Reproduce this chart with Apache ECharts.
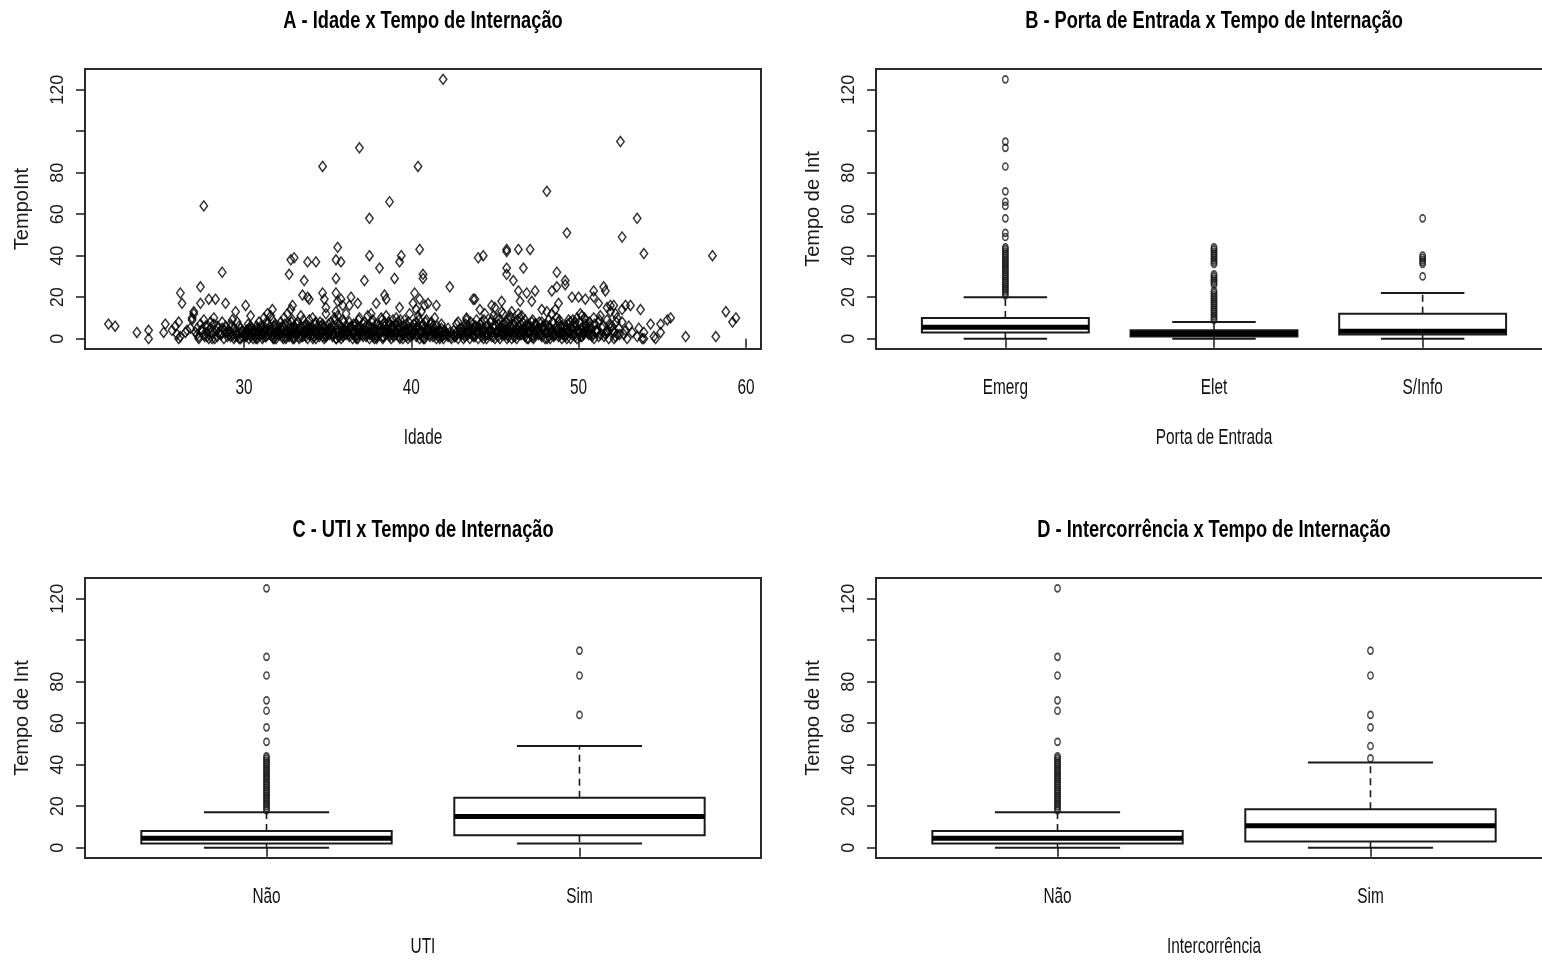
<!DOCTYPE html>
<html>
<head>
<meta charset="utf-8">
<script src="https://cdn.jsdelivr.net/npm/echarts@6/dist/echarts.min.js"></script>
<style>
  html, body { margin: 0; padding: 0; background: #fff; }
  #chart { width: 1542px; height: 961px; }
</style>
</head>
<body>
<div id="chart"></div>
<script>
// ---------- Painel A: idade x tempo de internação (dias) ----------
const idadeTempoExtremos = [
  [41.9,125],[52.5,95],[36.9,92],[34.7,83],[40.4,83],[48.1,71],[38.7,66],[27.6,64],[37.5,58],[53.5,58],[49.3,51],[52.6,49],
  [35.6,44],[40.5,43],[45.7,43],[45.7,42],[46.4,43],[47.1,43],[37.5,40],[44.0,39],[44.3,40],[53.9,41],[58.0,40],
  [33.0,39],[32.8,38],[33.8,37],[34.3,37],[35.5,38],[35.8,37],[39.4,40],[39.3,37],[38.1,34],[28.7,32],[32.7,31],
  [39.0,29],[35.5,29],[40.7,31],[40.7,29],[45.7,34],[45.7,31],[46.7,34],[46.1,28],[48.7,32],[49.2,28],[49.2,26],
  [33.6,28],[37.2,28],[27.4,25],[42.3,25],[51.5,25],[48.7,25],[48.4,23],[47.4,23],[46.4,23],[46.9,22],[51.6,23],
  [50.9,23],[26.2,22],[33.5,21],[34.7,22],[35.5,22],[40.2,22],[38.4,21],[26.3,17],[27.4,17],[27.9,19],[28.3,19],
  [28.9,17],[30.1,16],[33.8,20],[33.9,19],[34.8,19],[35.8,19],[35.6,18],[36.4,20],[36.3,16],[36.8,17],[37.9,17],
  [38.5,19],[40.5,19],[40.8,16],[40.1,17],[40.3,14],[39.3,15],[35.9,16],[34.9,15],[32.9,16],[32.8,14],[31.7,14],
  [29.5,13],[30.4,11],[27.0,13],[26.9,10],[46.5,18],[43.7,19],[43.8,19],[44.1,14],[45.4,18],[50.0,20],[50.9,20],
  [51.7,15],[52.1,16],[52.6,14],[53.1,16],[53.7,14],[55.5,10],[55.3,9],[54.9,7],[54.5,1],[56.4,1],[58.2,1],
  [58.8,13],[59.2,8],[59.4,10],[54.3,7],[54.9,3],[53.9,0],[54.6,0],[41.5,16],[41.0,17],[45.0,15],[47.8,14],
  [49.6,20],[50.4,19],[51.2,17],[51.9,16],[52.8,16],[47.2,18],[48.8,17],[44.8,16],
  [21.9,7],[22.3,6],[23.6,3],[24.3,4],[24.3,0],[25.2,3],[25.3,7],[25.7,4],[26.1,8],[26.1,0],[26.6,4],[27.0,12],[26.9,9]
];
const idadeTempoFaixa = [
  [26.5,3],[26.8,5],[26.2,1],[25.9,6],[26.0,2],
  [27.1,3],[27.2,5],[27.3,1],[27.4,7],[27.2,2],[27.5,4],[27.3,0],
  [27.6,2],[27.7,6],[27.8,3],[27.9,0],[27.6,9],[28.0,5],[27.8,1],[28.0,8],
  [28.1,2],[28.2,7],[28.3,4],[28.4,1],[28.2,10],[28.5,3],[28.4,6],[28.1,0],
  [28.6,2],[28.7,5],[28.8,0],[28.9,3],[28.7,8],[29.0,1],[28.9,6],
  [29.1,4],[29.2,1],[29.3,2],[29.4,0],[29.2,7],[29.5,3],[29.4,5],[29.3,9],[29.1,2],
  [29.6,1],[29.7,3],[29.8,0],[29.9,4],[29.7,6],[30.0,2],[29.8,5],[29.6,8],[29.9,1],
  [30.1,3],[30.2,2],[30.3,5],[30.4,1],[30.2,4],[30.5,3],[30.3,0],[30.4,6],[30.1,2],
  [30.6,4],[30.7,2],[30.8,5],[30.9,3],[30.7,1],[31.0,6],[30.8,0],[30.9,8],[30.6,3],
  [31.1,2],[31.2,4],[31.3,1],[31.4,7],[31.2,10],[31.5,3],[31.3,5],[31.1,0],[31.4,12],
  [31.6,3],[31.7,1],[31.8,6],[31.9,2],[31.7,9],[32.0,4],[31.8,0],[31.6,11],[31.9,5],
  [32.1,2],[32.2,5],[32.3,1],[32.4,3],[32.2,8],[32.5,0],[32.3,6],[32.4,10],[32.1,4],
  [32.6,3],[32.7,1],[32.8,5],[32.9,2],[32.7,7],[33.0,0],[32.8,4],[32.9,9],[32.6,12],[33.0,6],
  [33.1,2],[33.2,4],[33.3,1],[33.4,6],[33.2,8],[33.5,3],[33.3,0],[33.4,11],[33.1,5],
  [33.6,3],[33.7,1],[33.8,5],[33.9,2],[33.7,7],[34.0,4],[33.8,0],[33.9,9],[33.6,6],
  [34.1,2],[34.2,4],[34.3,0],[34.4,6],[34.2,3],[34.5,1],[34.3,8],[34.4,5],[34.1,10],
  [34.6,3],[34.7,1],[34.8,5],[34.9,2],[34.7,7],[35.0,4],[34.8,0],[34.9,12],[34.6,6],
  [35.1,2],[35.2,5],[35.3,1],[35.4,3],[35.2,8],[35.5,0],[35.3,6],[35.4,10],[35.1,4],[35.5,13],
  [35.6,3],[35.7,1],[35.8,5],[35.9,2],[35.7,7],[36.0,4],[35.8,0],[35.9,9],[35.6,11],
  [36.1,2],[36.2,4],[36.3,1],[36.4,6],[36.2,3],[36.5,0],[36.3,8],[36.4,5],[36.1,12],
  [36.6,3],[36.7,1],[36.8,5],[36.9,2],[36.7,7],[37.0,4],[36.8,0],[36.9,10],[36.6,6],
  [37.1,2],[37.2,5],[37.3,1],[37.4,3],[37.2,8],[37.5,0],[37.3,6],[37.4,11],[37.1,4],
  [37.6,3],[37.7,1],[37.8,5],[37.9,2],[37.7,9],[38.0,4],[37.8,0],[37.9,7],[37.6,12],
  [38.1,2],[38.2,4],[38.3,1],[38.4,6],[38.2,10],[38.5,3],[38.3,0],[38.4,8],[38.1,5],[38.5,11],
  [38.6,3],[38.7,1],[38.8,5],[38.9,2],[38.7,7],[39.0,4],[38.8,0],[38.9,9],[38.6,6],
  [39.1,2],[39.2,5],[39.3,1],[39.4,3],[39.2,8],[39.5,0],[39.3,6],[39.4,4],[39.1,10],
  [39.6,3],[39.7,1],[39.8,5],[39.9,2],[39.7,7],[40.0,4],[39.8,0],[39.9,12],[39.6,9],
  [40.1,2],[40.2,4],[40.3,1],[40.4,6],[40.2,3],[40.5,0],[40.3,8],[40.4,11],[40.1,5],
  [40.6,3],[40.7,1],[40.8,5],[40.9,2],[40.7,7],[41.0,4],[40.8,0],[40.9,9],[40.6,13],
  [41.1,2],[41.2,5],[41.3,1],[41.4,3],[41.2,8],[41.5,0],[41.3,6],[41.4,10],
  [41.6,3],[41.7,1],[41.8,5],[41.9,2],[41.7,0],[42.0,4],[41.8,7],
  [42.1,2],[42.2,1],[42.3,3],[42.4,0],[42.2,5],[42.5,2],
  [42.6,1],[42.7,3],[42.8,0],[42.9,5],[42.7,7],[43.0,2],[42.8,8],
  [43.1,3],[43.2,1],[43.3,9],[43.4,2],[43.2,5],[43.5,0],[43.3,10],[43.4,6],
  [43.6,2],[43.7,4],[43.8,1],[43.9,3],[43.7,7],[44.0,0],[43.8,5],[43.9,9],
  [44.1,3],[44.2,1],[44.3,5],[44.4,2],[44.2,8],[44.5,0],[44.3,4],[44.4,12],
  [44.6,2],[44.7,4],[44.8,1],[44.9,6],[44.7,3],[45.0,0],[44.8,9],[44.9,11],[44.6,5],
  [45.1,3],[45.2,1],[45.3,5],[45.4,2],[45.2,7],[45.5,4],[45.3,0],[45.4,13],[45.1,10],[45.5,12],
  [45.6,2],[45.7,4],[45.8,1],[45.9,6],[45.7,3],[46.0,0],[45.8,9],[45.9,11],[45.6,7],[46.0,13],
  [46.1,3],[46.2,1],[46.3,5],[46.4,2],[46.2,8],[46.5,4],[46.3,0],[46.4,12],[46.1,6],[46.5,10],
  [46.6,2],[46.7,4],[46.8,1],[46.9,6],[46.7,3],[47.0,0],[46.8,9],[46.9,7],[46.6,11],
  [47.1,3],[47.2,1],[47.3,5],[47.4,2],[47.2,8],[47.5,4],[47.3,0],[47.4,7],[47.1,6],
  [47.6,2],[47.7,4],[47.8,1],[47.9,6],[47.7,3],[48.0,0],[47.8,8],[47.9,5],
  [48.1,3],[48.2,1],[48.3,5],[48.4,2],[48.2,9],[48.5,4],[48.3,0],[48.4,12],[48.1,13],
  [48.6,2],[48.7,4],[48.8,1],[48.9,6],[48.7,10],[49.0,0],[48.8,8],[48.9,3],[48.6,14],
  [49.1,3],[49.2,1],[49.3,5],[49.4,9],[49.2,2],[49.5,8],[49.3,0],[49.4,4],
  [49.6,2],[49.7,4],[49.8,1],[49.9,10],[49.7,6],[50.0,3],[49.8,8],[49.9,0],
  [50.1,3],[50.2,1],[50.3,5],[50.4,9],[50.2,11],[50.5,4],[50.3,2],[50.4,7],[50.1,12],
  [50.6,2],[50.7,4],[50.8,1],[50.9,10],[50.7,6],
  [51.1,3],[51.2,1],[51.3,11],[51.4,5],[51.2,8],
  [51.6,2],[51.7,4],[51.8,0],[51.9,13],[51.7,9],[52.0,6],
  [52.1,3],[52.2,1],[52.3,10],[52.4,5],[52.2,12],
  [52.6,8],[52.7,2],[52.8,4],[52.9,0],[53.0,6],
  [53.2,3],[53.5,1],[53.8,0],[53.9,3],[53.6,5]
];
const idadeTempoFaixa2 = [
  [27.45,4],[27.65,1],[27.85,6],[28.05,3],[28.25,0],[28.45,5],[28.65,2],[28.85,4],[29.05,3],[29.25,6],[29.45,1],
  [30.05,1],[30.15,4],[30.25,7],[30.35,2],[30.45,5],[30.55,0],[30.65,3],[30.75,6],[30.85,2],[30.95,4],
  [31.05,5],[31.15,1],[31.25,3],[31.35,8],[31.45,2],[31.55,6],[31.65,4],[31.75,0],[31.85,7],[31.95,3],
  [32.05,6],[32.15,2],[32.25,4],[32.35,0],[32.45,7],[32.55,3],[32.65,5],[32.75,2],[32.85,8],[32.95,1],
  [33.05,4],[33.15,7],[33.25,3],[33.35,5],[33.45,1],[33.55,9],[33.65,2],[33.75,4],[33.85,6],[33.95,3],
  [34.05,5],[34.15,1],[34.25,7],[34.35,3],[34.45,2],[34.55,8],[34.65,4],[34.75,6],[34.85,1],[34.95,3],
  [35.05,7],[35.15,3],[35.25,4],[35.35,2],[35.45,9],[35.55,5],[35.65,1],[35.75,6],[35.85,3],[35.95,8],
  [36.05,4],[36.15,6],[36.25,2],[36.35,5],[36.45,3],[36.55,7],[36.65,4],[36.75,2],[36.85,9],[36.95,5],
  [37.05,3],[37.15,7],[37.25,4],[37.35,2],[37.45,6],[37.55,5],[37.65,8],[37.75,3],[37.85,4],[37.95,1],
  [38.05,6],[38.15,3],[38.25,9],[38.35,4],[38.45,2],[38.55,5],[38.65,8],[38.75,3],[38.85,6],[38.95,1],
  [39.05,7],[39.15,3],[39.25,4],[39.35,9],[39.45,2],[39.55,6],[39.65,4],[39.75,3],[39.85,8],[39.95,5],
  [40.05,3],[40.15,7],[40.25,5],[40.35,2],[40.45,9],[40.55,4],[40.65,6],[40.75,3],[40.85,8],[40.95,5],
  [41.05,4],[41.15,7],[41.25,3],[41.35,5],[41.45,2],[41.55,6],[41.65,4],[41.75,3],[41.85,1],[41.95,2],
  [42.05,3],[42.35,1],[42.55,4],[42.75,2],[42.95,3],
  [43.05,5],[43.15,2],[43.25,7],[43.35,4],[43.45,3],[43.55,8],[43.65,5],[43.75,2],[43.85,6],[43.95,3],
  [44.05,5],[44.15,7],[44.25,3],[44.35,9],[44.45,2],[44.55,6],[44.65,4],[44.75,8],[44.85,3],[44.95,5],
  [45.05,6],[45.15,4],[45.25,9],[45.35,3],[45.45,7],[45.55,5],[45.65,8],[45.75,2],[45.85,4],[45.95,10],
  [46.05,5],[46.15,7],[46.25,3],[46.35,9],[46.45,6],[46.55,4],[46.65,8],[46.75,2],[46.85,5],[46.95,3],
  [47.05,6],[47.15,4],[47.25,9],[47.35,3],[47.45,7],[47.55,5],[47.65,8],[47.75,2],[47.85,6],[47.95,4],
  [48.05,7],[48.15,3],[48.25,6],[48.35,4],[48.45,8],[48.55,2],[48.65,5],[48.75,3],[48.85,9],[48.95,6],
  [49.05,2],[49.15,6],[49.25,4],[49.35,7],[49.45,3],[49.55,5],[49.65,9],[49.75,2],[49.85,6],[49.95,4],
  [50.05,8],[50.15,5],[50.25,3],[50.35,10],[50.45,6],[50.55,3],[50.65,8],[50.75,5],[50.85,2],[50.95,7],
  [51.05,4],[51.25,9],[51.45,6],[51.65,3],[51.85,7],[52.05,4],[52.25,8],[52.45,2]
];
const idadeTempoFaixa3 = [
  [29.52,2],[29.72,0],[29.92,3],[30.12,1],[30.32,4],[30.52,2],[30.72,0],[30.92,5],[31.12,3],[31.32,1],
  [31.52,4],[31.72,2],[31.92,0],[32.12,3],[32.32,5],[32.52,1],[32.72,3],[32.92,0],[33.12,2],[33.32,4],
  [33.52,1],[33.72,3],[33.92,5],[34.12,0],[34.32,2],[34.52,4],[34.72,3],[34.92,1],[35.12,5],[35.32,2],
  [35.52,0],[35.72,4],[35.92,1],[36.12,3],[36.32,5],[36.52,2],[36.72,0],[36.92,3],[37.12,1],[37.32,4],
  [37.52,2],[37.72,5],[37.92,0],[38.12,3],[38.32,1],[38.52,4],[38.72,2],[38.92,5],[39.12,3],[39.32,0],
  [39.52,2],[39.72,4],[39.92,1],[40.12,3],[40.32,5],[40.52,2],[40.72,0],[40.92,4],[41.12,1],[41.32,3],
  [41.52,2],[41.72,4],[41.92,0],[42.12,2],[42.62,1],[42.92,3],[43.12,0],[43.32,2],[43.52,4],[43.72,1],
  [43.92,3],[44.12,5],[44.32,0],[44.52,2],[44.72,4],[44.92,1],[45.12,3],[45.32,5],[45.52,2],[45.72,0],
  [45.92,3],[46.12,1],[46.32,4],[46.52,2],[46.72,5],[46.92,0],[47.12,3],[47.32,1],[47.52,4],[47.72,2],
  [47.92,5],[48.12,0],[48.32,3],[48.52,1],[48.72,4],[48.92,2],[49.12,5],[49.32,3],[49.52,0],[49.72,2],
  [49.92,4],[50.12,1],[50.32,3],[50.52,5],[50.72,2],[50.92,0],[51.12,4],[51.32,2],[51.52,1],[51.72,3],
  [51.92,5],[52.12,0],[52.32,2]
];

// ---------- Eixos ----------
const ticksTempo = [0, 20, 40, 60, 80, 100, 120];
const rotulosTempo = [0, 20, 40, 60, 80, 120];
const ticksIdade = [30, 40, 50, 60];

// ---------- Painel B: porta de entrada ----------
// cada caixa: [mínimo, Q1, mediana, Q3, máximo]
const portaCategorias = ['Emerg', 'Elet', 'S/Info'];
const portaCaixas = [
  [0, 3, 5.5, 10, 20],
  [0, 1, 2.5, 4, 8],
  [0, 2, 3.5, 12, 22]
];
const portaOutliers = [
  [125, 95, 92, 83, 71, 66, 64, 58, 51, 49, 44, 43, 42, 41, 40, 39, 38, 37, 36, 35, 34, 33, 32, 31, 30, 29, 28, 27, 26, 25, 24, 23, 22, 21],
  [44, 43, 42, 41, 40, 39, 38, 37, 36, 31, 30, 29, 28, 27, 26, 23, 22, 21, 20, 19, 18, 17, 16, 15, 14, 13, 12, 11, 10, 9],
  [58, 40, 39, 38, 37, 36, 30]
];

// ---------- Painel C: UTI ----------
const utiCategorias = ['Não', 'Sim'];
const utiCaixas = [
  [0, 2, 4.5, 8, 17],
  [2, 6, 15, 24, 49]
];
const utiOutliers = [
  [125, 92, 83, 71, 66, 58, 51, 44, 43, 42, 41, 40, 39, 38, 37, 36, 35, 34, 33, 32, 31, 30, 29, 28, 27, 26, 25, 24, 23, 22, 21, 20, 19, 18],
  [95, 83, 64]
];

// ---------- Painel D: intercorrência ----------
const interCategorias = ['Não', 'Sim'];
const interCaixas = [
  [0, 2, 4.5, 8, 17],
  [0, 3, 10.5, 18.5, 41]
];
const interOutliers = [
  [125, 92, 83, 71, 66, 51, 44, 43, 42, 41, 40, 39, 38, 37, 36, 35, 34, 33, 32, 31, 30, 29, 28, 27, 26, 25, 24, 23, 22, 21, 20, 19, 18],
  [95, 83, 64, 58, 49, 43]
];

const fonteNormal = "'Liberation Sans', Arial, sans-serif";
const corTinta = '#1a1a1a';

// posição de cada painel (px)
const grades = [
  { left: 85,  top: 69,  width: 676, height: 280 },
  { left: 876, top: 69,  width: 676, height: 280 },
  { left: 85,  top: 578, width: 676, height: 280 },
  { left: 876, top: 578, width: 676, height: 280 }
];

// eixo horizontal de cada painel: nome, limites, marcas e rótulos
const paineisX = [
  { nome: 'Idade', min: 20.5, max: 60.9, marcas: ticksIdade, rotulos: ticksIdade.map(String) },
  { nome: 'Porta de Entrada', min: 0.38, max: 3.62, marcas: [1, 2, 3], rotulos: portaCategorias },
  { nome: 'UTI', min: 0.42, max: 2.58, marcas: [1, 2], rotulos: utiCategorias },
  { nome: 'Intercorrência', min: 0.42, max: 2.58, marcas: [1, 2], rotulos: interCategorias }
];
const titulos = [
  'A - Idade x Tempo de Internação',
  'B - Porta de Entrada x Tempo de Internação',
  'C - UTI x Tempo de Internação',
  'D - Intercorrência x Tempo de Internação'
];

function eixoY(gi, nome) {
  return {
    type: 'value', gridIndex: gi, min: -5, max: 130,
    name: nome, nameLocation: 'middle', nameGap: 53,
    nameTextStyle: { fontFamily: fonteNormal, fontSize: 20, color: corTinta },
    axisLine: { show: false }, splitLine: { show: false },
    axisTick: { show: true, length: 9, customValues: ticksTempo, lineStyle: { color: corTinta, width: 1.5 } },
    axisLabel: { customValues: rotulosTempo, rotate: 90, margin: 18, fontFamily: fonteNormal, fontSize: 18, color: corTinta }
  };
}

function eixoX(gi) {
  const p = paineisX[gi];
  return {
    type: 'value', gridIndex: gi, min: p.min, max: p.max,
    axisLine: { show: false }, splitLine: { show: false },
    axisTick: { show: true, length: 9, customValues: p.marcas, lineStyle: { color: corTinta, width: 1.5 } },
    axisLabel: { show: false }
  };
}

function desenhaCaixa(params, api) {
  const x = api.value(0);
  const p = i => api.coord([x, api.value(i)]);
  const lo = p(1), q1 = p(2), md = p(3), q3 = p(4), hi = p(5);
  const cx = lo[0];
  const meia = api.size([0.4, 0])[0];
  const meiaHaste = meia / 2;
  const traco = { stroke: corTinta, lineWidth: 2, fill: null };
  const tracejado = { stroke: corTinta, lineWidth: 1.6, fill: null, lineDash: [7, 5] };
  return {
    type: 'group',
    children: [
      { type: 'line', shape: { x1: cx, y1: q1[1], x2: cx, y2: lo[1] }, style: tracejado },
      { type: 'line', shape: { x1: cx, y1: q3[1], x2: cx, y2: hi[1] }, style: tracejado },
      { type: 'line', shape: { x1: cx - meiaHaste, y1: lo[1], x2: cx + meiaHaste, y2: lo[1] }, style: traco },
      { type: 'line', shape: { x1: cx - meiaHaste, y1: hi[1], x2: cx + meiaHaste, y2: hi[1] }, style: traco },
      { type: 'rect', shape: { x: cx - meia, y: q3[1], width: 2 * meia, height: q1[1] - q3[1] },
        style: { fill: '#fff', stroke: corTinta, lineWidth: 2 } },
      { type: 'line', shape: { x1: cx - meia, y1: md[1], x2: cx + meia, y2: md[1] },
        style: { stroke: '#000', lineWidth: 5 } }
    ]
  };
}

function seriesCaixas(gi, caixas, outliers) {
  const dadosCaixa = caixas.map((c, i) => [i + 1].concat(c));
  const dadosOut = [];
  outliers.forEach((lista, i) => lista.forEach(v => dadosOut.push([i + 1, v])));
  return [
    {
      type: 'custom', xAxisIndex: gi, yAxisIndex: gi,
      renderItem: desenhaCaixa,
      dimensions: ['x', 'min', 'q1', 'mediana', 'q3', 'max'],
      encode: { x: 0, y: [1, 2, 3, 4, 5] },
      data: dadosCaixa, silent: true
    },
    {
      type: 'scatter', xAxisIndex: gi, yAxisIndex: gi,
      symbol: 'circle', symbolSize: [5.5, 7],
      itemStyle: { color: 'rgba(0,0,0,0)', borderColor: corTinta, borderWidth: 1.5 },
      data: dadosOut, silent: true, z: 5
    }
  ];
}

// texto horizontal estreito (fonte condensada por escala horizontal)
function textoEstreito(texto, x, y, tamanho, negrito, escala) {
  return {
    type: 'text', x: x, y: y, scaleX: escala, silent: true,
    style: { text: texto, align: 'center', verticalAlign: 'middle',
      font: (negrito ? 'bold ' : '') + tamanho + "px 'Liberation Sans', Arial, sans-serif",
      fill: negrito ? '#000' : '#111' }
  };
}

const grafico = echarts.init(document.getElementById('chart'), null, { renderer: 'canvas' });
grafico.setOption({
  animation: false,
  backgroundColor: '#fff',
  grid: grades.map(g => Object.assign({ show: true, borderColor: '#2a2a2a', borderWidth: 2,
    backgroundColor: 'transparent', containLabel: false, outerBoundsMode: 'none' }, g)),
  xAxis: [eixoX(0), eixoX(1), eixoX(2), eixoX(3)],
  yAxis: [
    eixoY(0, 'TempoInt'),
    eixoY(1, 'Tempo de Int'),
    eixoY(2, 'Tempo de Int'),
    eixoY(3, 'Tempo de Int')
  ],
  series: [
    {
      type: 'scatter', xAxisIndex: 0, yAxisIndex: 0,
      symbol: 'diamond', symbolSize: [7.5, 10],
      itemStyle: { color: 'rgba(0,0,0,0)', borderColor: '#000', borderWidth: 1.5 },
      data: idadeTempoFaixa.concat(idadeTempoFaixa2, idadeTempoFaixa3, idadeTempoExtremos), silent: true
    }
  ].concat(
    seriesCaixas(1, portaCaixas, portaOutliers),
    seriesCaixas(2, utiCaixas, utiOutliers),
    seriesCaixas(3, interCaixas, interOutliers)
  )
});

// títulos, rótulos do eixo horizontal e nomes dos eixos, posicionados pelas escalas de cada painel
const textos = [];
paineisX.forEach((p, gi) => {
  const base = grafico.convertToPixel({ gridIndex: gi }, [p.min, 130]);
  const fundo = grafico.convertToPixel({ gridIndex: gi }, [p.min, -5]);
  const meio = grafico.convertToPixel({ gridIndex: gi }, [(p.min + p.max) / 2, -5]);
  textos.push(textoEstreito(titulos[gi], meio[0], base[1] - 48, 24, true, 0.76));
  p.marcas.forEach((v, k) => {
    const pt = grafico.convertToPixel({ gridIndex: gi }, [v, -5]);
    textos.push(textoEstreito(p.rotulos[k], pt[0], fundo[1] + 39, 22, false, 0.7));
  });
  textos.push(textoEstreito(p.nome, meio[0], fundo[1] + 89, 22, false, 0.7));
});
grafico.setOption({ graphic: textos });
</script>
</body>
</html>
